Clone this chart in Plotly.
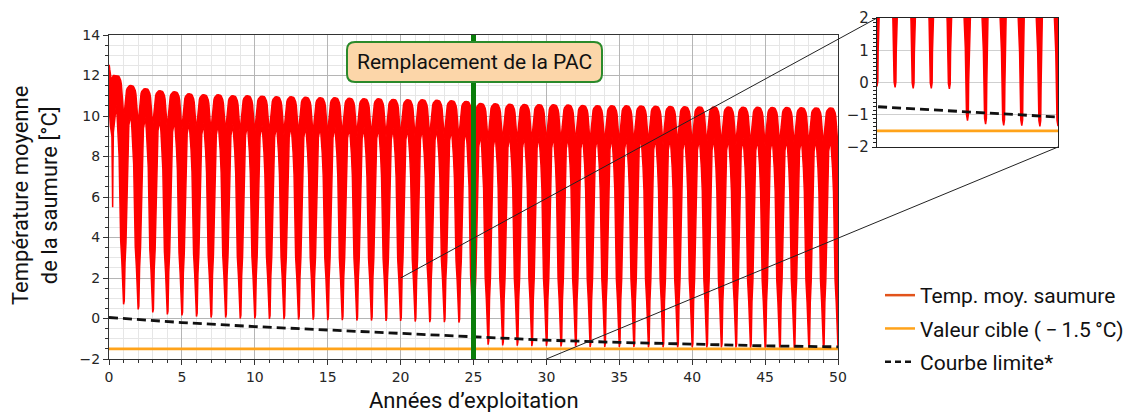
import plotly.graph_objects as go

# ---------------- data ----------------
# hump maxima of each year (summer, at year k + 0.5), k = 0..49
PEAKS = [12.0, 11.5, 11.35, 11.25, 11.2, 11.1, 11.05, 11.05, 11.0, 11.0,
         10.98, 10.95, 10.95, 10.92, 10.9, 10.9, 10.88, 10.85, 10.85, 10.82,
         10.8, 10.8, 10.78, 10.75, 10.72, 10.62, 10.6, 10.58, 10.57, 10.56,
         10.55, 10.54, 10.52, 10.51, 10.5, 10.5, 10.49, 10.48, 10.47, 10.46,
         10.45, 10.45, 10.44, 10.43, 10.43, 10.42, 10.42, 10.41, 10.4, 10.4]
# winter minima at years 1..50
MINIMA = [0.7, 0.45, 0.3, 0.2, 0.15, 0.1, 0.05, 0.05, 0.0, 0.0,
          -0.02, -0.03, -0.05, -0.06, -0.08, -0.08, -0.1, -0.1, -0.12, -0.12,
          -0.15, -0.18, -0.18, -0.2, -1.18, -1.29, -1.33, -1.34, -1.36, -1.35,
          -1.38, -1.38, -1.4, -1.4, -1.4, -1.4, -1.42, -1.42, -1.42, -1.42,
          -1.43, -1.43, -1.43, -1.44, -1.44, -1.44, -1.45, -1.45, -1.45, -1.45]
# first half-year (start-up)
FIRST_T = [0.0, 0.02, 0.05, 0.1, 0.15, 0.2, 0.23, 0.25, 0.27, 0.3, 0.35, 0.4, 0.45, 0.5]
FIRST_UP = [12.5, 12.5, 12.3, 11.8, 11.8, 11.85, 11.9, 11.9, 11.95, 12.0, 12.0, 12.0, 12.0, 12.0]
FIRST_LOW = [12.3, 11.0, 10.0, 9.5, 9.2, 9.0, 7.0, 5.5, 7.5, 9.2, 9.6, 9.8, 10.0, 10.4]
# within-year envelope shape around each winter spike
SPIKE_FRAC = [0.0, 0.015, 0.1, 0.19, 0.28, 0.36, 0.5, 0.65, 0.75, 0.82, 0.87]
SPIKE_LEFT_Q = [0.0, 0.055, 0.077, 0.121, 0.198, 0.231, 0.264, 0.308, 0.374, 0.44, 0.5]
SPIKE_RIGHT_Q = [0.0, 0.045, 0.063, 0.099, 0.162, 0.189, 0.216, 0.252, 0.306, 0.36, 0.5]
HUMP_Q = [0.0, 0.05, 0.1, 0.155, 0.2, 0.25, 0.3, 0.35, 0.4, 0.5]
HUMP_DROP = [1.9, 1.35, 0.85, 0.42, 0.24, 0.13, 0.07, 0.03, 0.01, 0.0]

LIMIT_YEARS = [0, 5, 10, 15, 20, 25, 30, 35, 40, 45, 50]
LIMIT_TEMP = [0.05, -0.2, -0.4, -0.57, -0.75, -0.92, -1.07, -1.18, -1.27, -1.35, -1.4]
TARGET_TEMP = -1.5
PAC_YEAR = 25
X_RANGE = [0, 50]
Y_RANGE = [-2, 14]
INSET_X = [20, 30]
INSET_Y = [-2, 2]
X_TICKS = list(range(0, 51, 5))
Y_TICKS = list(range(-2, 15, 2))
INSET_Y_TICKS = [-2, -1, 0, 1, 2]

NAMES = ["Temp. moy. saumure", "Valeur cible (\u2009\u2212\u20091.5\u2009°C)", "Courbe limite*"]

# ---------------- build envelopes ----------------
up_x, up_y = list(FIRST_T), list(FIRST_UP)
lo_x, lo_y = list(FIRST_T), list(FIRST_LOW)
n = len(MINIMA)
for k in range(1, n + 1):
    m = MINIMA[k - 1]
    ml = PEAKS[k - 1]
    for q, f in zip(reversed(SPIKE_LEFT_Q), reversed(SPIKE_FRAC)):
        lo_x.append(k - q); lo_y.append(m + f * (ml - m))
    for q, d in zip(reversed(HUMP_Q), reversed(HUMP_DROP)):
        up_x.append(k - q); up_y.append(ml - d)
    if k < n:
        mr = PEAKS[k]
        for q, f in zip(SPIKE_RIGHT_Q[1:], SPIKE_FRAC[1:]):
            lo_x.append(k + q); lo_y.append(m + f * (mr - m))
        for q, d in zip(HUMP_Q[1:], HUMP_DROP[1:]):
            up_x.append(k + q); up_y.append(mr - d)

# ---------------- geometry (screen pixels; page body has an 8px margin) ----------------
OFF = 8
W, H = 1142 - OFF, 412 - OFF
ML, MR, MT, MB = 109, 838, 35, 359
IL, IR, IT, IB = 877, 1058, 18, 147
px = lambda v: (v - OFF) / W
py = lambda v: 1 - (v - OFF) / H

RED = "#ff0000"
ORANGE = "#ffa31a"
GREEN = "#0a7d0a"
TICKFONT = dict(family="DejaVu Sans", size=14, color="#262626")
TXTFONT = "Roboto"

fig = go.Figure()

for xa, ya in (("x", "y"), ("x2", "y2")):
    fig.add_trace(go.Scatter(x=lo_x, y=lo_y, mode="lines", line=dict(color=RED, width=1.5),
                             showlegend=False, hoverinfo="skip", xaxis=xa, yaxis=ya))
    fig.add_trace(go.Scatter(x=up_x, y=up_y, mode="lines", line=dict(color=RED, width=1.5),
                             fill="tonexty", fillcolor=RED,
                             showlegend=False, hoverinfo="skip", xaxis=xa, yaxis=ya))
    fig.add_trace(go.Scatter(x=X_RANGE, y=[TARGET_TEMP, TARGET_TEMP], mode="lines",
                             line=dict(color=ORANGE, width=2.8),
                             showlegend=False, hoverinfo="skip", xaxis=xa, yaxis=ya))
    fig.add_trace(go.Scatter(x=LIMIT_YEARS, y=LIMIT_TEMP, mode="lines",
                             line=dict(color="#111111", width=2.8, dash="9px,5px"),
                             showlegend=False, hoverinfo="skip", xaxis=xa, yaxis=ya))

fig.add_trace(go.Scatter(x=[PAC_YEAR, PAC_YEAR], y=Y_RANGE, mode="lines",
                         line=dict(color=GREEN, width=5), showlegend=False, hoverinfo="skip"))

# legend entries
legend_styles = [dict(color="#e2531b", width=2.5), dict(color=ORANGE, width=2.5),
                 dict(color="#111111", width=2.5, dash="6px,4px")]
for i, (name, st) in enumerate(zip(NAMES, legend_styles)):
    fig.add_trace(go.Scatter(x=[None], y=[None], mode="lines", name=name, line=st,
                             legendgroup=f"g{i}", showlegend=True))

# ---------------- connector lines ----------------
def main_px_x(t):
    return ML + (t - X_RANGE[0]) / (X_RANGE[1] - X_RANGE[0]) * (MR - ML)

def main_px_y(v):
    return MB - (v - Y_RANGE[0]) / (Y_RANGE[1] - Y_RANGE[0]) * (MB - MT)

shapes = [
    dict(type="line", xref="paper", yref="paper", layer="above",
         x0=px(main_px_x(INSET_X[0])), y0=py(main_px_y(INSET_Y[1])), x1=px(IL), y1=py(IT),
         line=dict(color="#222222", width=1)),
    dict(type="line", xref="paper", yref="paper", layer="above",
         x0=px(main_px_x(INSET_X[1])), y0=py(main_px_y(INSET_Y[0])), x1=px(IR), y1=py(IB),
         line=dict(color="#222222", width=1)),
]

# rounded annotation box
bl, br, bt, bb, r = 347, 602, 42, 82, 8
pts = lambda a, b: f"{px(a):.5f},{py(b):.5f}"
path = (f"M {pts(bl + r, bt)} L {pts(br - r, bt)} Q {pts(br, bt)} {pts(br, bt + r)} "
        f"L {pts(br, bb - r)} Q {pts(br, bb)} {pts(br - r, bb)} "
        f"L {pts(bl + r, bb)} Q {pts(bl, bb)} {pts(bl, bb - r)} "
        f"L {pts(bl, bt + r)} Q {pts(bl, bt)} {pts(bl + r, bt)} Z")
shapes.append(dict(type="path", xref="paper", yref="paper", layer="above", path=path,
                   fillcolor="#fcd6a9", line=dict(color="#2b8a2b", width=2)))

annotations = [
    dict(text="Remplacement de la PAC", xref="paper", yref="paper",
         x=px((bl + br) / 2), y=py((bt + bb) / 2), showarrow=False,
         font=dict(family=TXTFONT, size=21, color="#111111"), xanchor="center", yanchor="middle"),
    dict(text="Température moyenne<br>de la saumure [°C]", xref="paper", yref="paper",
         x=px(35), y=py(196), showarrow=False, textangle=-90,
         font=dict(family=TXTFONT, size=22, color="#111111"), xanchor="center", yanchor="middle"),
    dict(text="Années d\u2019exploitation", xref="paper", yref="paper",
         x=px((ML + MR) / 2), y=py(400), showarrow=False,
         font=dict(family=TXTFONT, size=22, color="#111111"), xanchor="center", yanchor="middle"),
]

axis_common = dict(showline=True, linecolor="#333333", linewidth=1.2, mirror=True,
                   zeroline=False, tickfont=TICKFONT, ticks="outside", tickcolor="#333333",
                   ticklen=5, tickwidth=1.2, automargin=False)

fig.update_layout(
    width=W, height=H, autosize=False,
    margin=dict(l=0, r=0, t=0, b=0, autoexpand=False),
    paper_bgcolor="white", plot_bgcolor="white",
    shapes=shapes, annotations=annotations,
    showlegend=True,
    legend=dict(x=px(880), y=py(275), xanchor="left", yanchor="top",
                font=dict(family=TXTFONT, size=21, color="#111111"),
                bgcolor="rgba(0,0,0,0)", tracegroupgap=3, itemwidth=30),
    xaxis=dict(domain=[px(ML), px(MR)], range=X_RANGE, tickvals=X_TICKS,
               showgrid=True, gridcolor="#b5b5b5", gridwidth=1,
               minor=dict(dtick=1, ticks="outside", ticklen=3, tickcolor="#333333",
                          showgrid=True, gridcolor="#e6e6e6", gridwidth=1),
               anchor="y", **axis_common),
    yaxis=dict(domain=[py(MB), py(MT)], range=Y_RANGE, tickvals=Y_TICKS,
               showgrid=True, gridcolor="#b5b5b5", gridwidth=1,
               minor=dict(dtick=0.5, ticks="outside", ticklen=3, tickcolor="#333333",
                          showgrid=True, gridcolor="#e6e6e6", gridwidth=1),
               anchor="x", **axis_common),
    xaxis2=dict(domain=[px(IL), px(IR)], range=INSET_X, showticklabels=False,
                showgrid=False, showline=True, linecolor="#222222", linewidth=1.2, mirror=True,
                zeroline=False, ticks="", anchor="y2", automargin=False),
    yaxis2=dict(domain=[py(IB), py(IT)], range=INSET_Y, tickvals=INSET_Y_TICKS,
                showgrid=True, gridcolor="#cfcfcf", gridwidth=1,
                showline=True, linecolor="#222222", linewidth=1.2, mirror=True,
                zeroline=False, tickfont=dict(family="DejaVu Sans", size=15, color="#262626"),
                ticks="outside", ticklen=4, tickcolor="#222222",
                minor=dict(dtick=0.125, ticks="outside", ticklen=2.5, tickcolor="#222222",
                           showgrid=False),
                anchor="x2", automargin=False),
)

fig.write_html("out.html")
